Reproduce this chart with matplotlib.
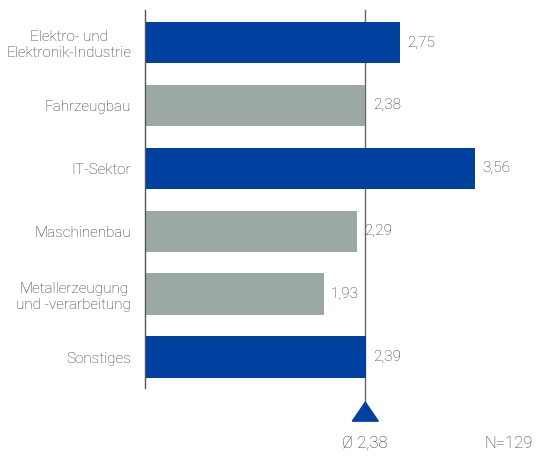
import matplotlib.pyplot as plt
from matplotlib.patches import Polygon

categories = ['Elektro- und\nElektronik-Industrie', 'Fahrzeugbau', 'IT-Sektor',
              'Maschinenbau', 'Metallerzeugung\nund -verarbeitung', 'Sonstiges']
values = [2.75, 2.38, 3.56, 2.29, 1.93, 2.39]
above_mean = [True, False, True, False, False, True]
mean_value = 2.38
mean_label = 'Ø 2,38'
n_label = 'N=129'

blue = '#0041a0'
grey = '#9ba8a3'
text_col = '#333333'

plt.rcParams['font.family'] = ['Roboto', 'DejaVu Sans']

fig = plt.figure(figsize=(5.4, 4.69), dpi=100)
ax = fig.add_axes([145 / 540, 1 - 388 / 469, (540 - 145) / 540, 378 / 469])

ypos = list(range(len(categories)))
colors = [blue if a else grey for a in above_mean]
ax.barh(ypos, values, height=0.66, color=colors, zorder=2)

for y, v in zip(ypos, values):
    ax.text(v + 0.08, y, f'{v:.2f}'.replace('.', ','), va='center', ha='left',
            fontsize=11, color=text_col, fontweight='light')

ax.set_xlim(0, (540 - 145) / 92.56)
ax.set_ylim(5.49, -0.517)

ax.set_yticks(ypos)
ax.set_yticklabels(categories, fontsize=11, color=text_col, fontweight='light')
for t in ax.get_yticklabels():
    t.set_multialignment('center')
ax.tick_params(axis='y', length=0, pad=10)
ax.set_xticks([])

for s in ['top', 'right', 'bottom']:
    ax.spines[s].set_visible(False)
ax.spines['left'].set_color('#555555')
ax.spines['left'].set_linewidth(1)

# mean line with triangle marker below the axis
ax.plot([mean_value, mean_value], [-0.517, 5.72], color='#666666', lw=1,
        clip_on=False, zorder=1)
tri = Polygon([[mean_value - 0.14, 6.017], [mean_value + 0.14, 6.017],
               [mean_value, 5.715]], closed=True, color=blue, clip_on=False)
ax.add_patch(tri)

fig.text(365 / 540, 1 - 443 / 469, mean_label, ha='center', va='center',
         fontsize=12, color=text_col, fontweight='light')
fig.text(533 / 540, 1 - 443 / 469, n_label, ha='right', va='center',
         fontsize=12, color=text_col, fontweight='light')

fig.savefig('out.png', dpi=100)
